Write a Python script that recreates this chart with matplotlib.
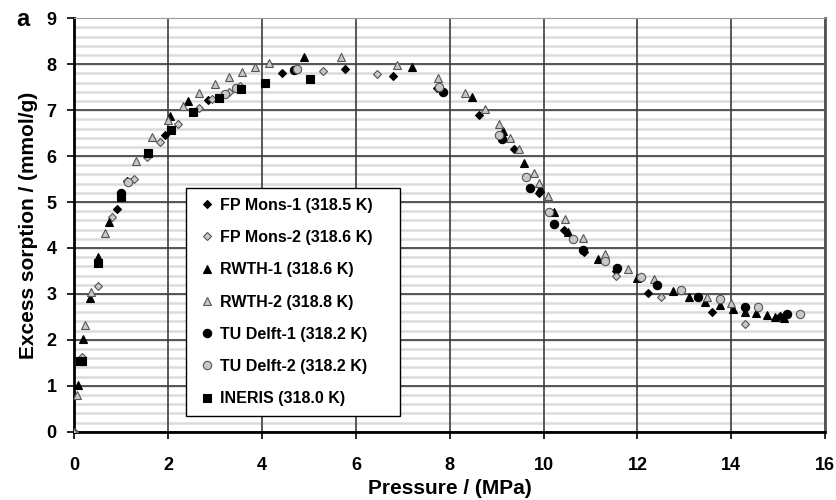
import numpy as np
from matplotlib import pyplot as plt
from matplotlib.ticker import MultipleLocator

plt.rcParams['font.family'] = ['Liberation Sans', 'DejaVu Sans']
plt.rcParams['font.weight'] = 'bold'

# excess sorption data, pressure in MPa, sorption in mmol/g
mons1_p = [0.0, 0.9, 1.12, 1.93, 2.84, 4.43, 5.76, 6.8, 7.72, 8.63, 9.36, 9.91,
           10.44, 10.87, 11.55, 12.23, 13.6, 15.05]
mons1_q = [0.0, 4.84, 5.45, 6.47, 7.22, 7.8, 7.89, 7.75, 7.48, 6.9, 6.16, 5.2,
           4.39, 3.92, 3.5, 3.01, 2.61, 2.52]

mons2_p = [0.0, 0.15, 0.5, 0.8, 1.26, 1.55, 1.82, 2.2, 2.65, 2.93, 3.3, 3.53,
           5.3, 6.44, 11.54, 12.5, 14.3]
mons2_q = [0.0, 1.62, 3.17, 4.67, 5.5, 5.98, 6.31, 6.7, 7.04, 7.24, 7.4, 7.53,
           7.86, 7.79, 3.4, 2.94, 2.34]

rwth1_p = [0.07, 0.18, 0.32, 0.5, 0.73, 2.03, 2.43, 4.89, 7.2, 8.48, 9.14, 9.58,
           9.92, 10.23, 10.53, 11.17, 11.99, 12.75, 13.1, 13.44, 13.76, 14.03,
           14.3, 14.53, 14.76, 14.94, 15.12]
rwth1_q = [1.02, 2.01, 2.9, 3.81, 4.57, 6.87, 7.21, 8.16, 7.95, 7.28, 6.55, 5.84,
           5.3, 4.78, 4.35, 3.75, 3.34, 3.06, 2.93, 2.83, 2.76, 2.67,
           2.61, 2.58, 2.53, 2.49, 2.47]

rwth2_p = [0.0, 0.05, 0.22, 0.35, 0.66, 1.32, 1.66, 2.0, 2.32, 2.66, 3.0, 3.3,
           3.58, 3.85, 4.15, 5.68, 6.88, 7.74, 8.33, 8.75, 9.04, 9.29, 9.47,
           9.79, 9.91, 10.1, 10.46, 10.85, 11.31, 11.81, 12.35, 13.48, 14.0]
rwth2_q = [0.0, 0.8, 2.33, 3.04, 4.32, 5.9, 6.41, 6.79, 7.1, 7.37, 7.57, 7.72,
           7.84, 7.93, 8.02, 8.15, 7.98, 7.69, 7.37, 7.02, 6.69, 6.4, 6.16,
           5.63, 5.42, 5.13, 4.63, 4.21, 3.87, 3.54, 3.32, 2.94, 2.81]

delft1_p = [1.0, 4.68, 7.86, 9.11, 9.7, 10.22, 10.85, 11.57, 12.41, 13.3,
            14.3, 15.19]
delft1_q = [5.2, 7.88, 7.39, 6.37, 5.3, 4.52, 3.96, 3.56, 3.19, 2.94,
            2.72, 2.56]

delft2_p = [1.15, 3.2, 3.44, 4.75, 7.78, 9.04, 9.63, 10.12, 10.63, 11.3,
            12.07, 12.93, 13.76, 14.58, 15.47]
delft2_q = [5.44, 7.35, 7.48, 7.9, 7.51, 6.46, 5.54, 4.78, 4.2, 3.72,
            3.36, 3.09, 2.88, 2.72, 2.56]

ineris_p = [0.12, 0.17, 0.5, 1.0, 1.56, 2.05, 2.53, 3.09, 3.56, 4.06, 5.02]
ineris_q = [1.55, 1.55, 3.68, 5.1, 6.06, 6.57, 6.95, 7.26, 7.45, 7.59, 7.68]

series = [
    (mons1_p, mons1_q, "FP Mons-1 (318.5 K)", "D", "black", 4.5),
    (mons2_p, mons2_q, "FP Mons-2 (318.6 K)", "D", "#c8c8c8", 4.5),
    (rwth1_p, rwth1_q, "RWTH-1 (318.6 K)", "^", "black", 6),
    (rwth2_p, rwth2_q, "RWTH-2 (318.8 K)", "^", "#c8c8c8", 6),
    (delft1_p, delft1_q, "TU Delft-1 (318.2 K)", "o", "black", 6),
    (delft2_p, delft2_q, "TU Delft-2 (318.2 K)", "o", "#c8c8c8", 6),
    (ineris_p, ineris_q, "INERIS (318.0 K)", "s", "black", 6),
]

fig = plt.figure(figsize=(8.37, 5.0), dpi=100)
ax = fig.add_axes([0.089, 0.1366, 0.8967, 0.8268])

for p, q, label, marker, color, size in series:
    ax.plot(p, q, linestyle="none", marker=marker, markersize=size,
            markerfacecolor=color,
            markeredgecolor="#555555" if color != "black" else "black",
            markeredgewidth=0.8, label=label, zorder=3)

ax.set_xlim(0, 16)
ax.set_ylim(0, 9)
ax.xaxis.set_major_locator(MultipleLocator(2))
ax.yaxis.set_major_locator(MultipleLocator(1))

# light minor lines every 0.2 underneath the dark major grid
minor_y = np.arange(0.2, 9.0, 0.2)
ax.hlines(minor_y, 0, 16, color="#dcdcdc", linewidth=1.8, zorder=0.2)
ax.grid(which="major", axis="both", color="#3c3c3c", linewidth=1.2)
ax.set_axisbelow(True)

ax.tick_params(which="major", direction="out", length=5, width=1.2,
               labelsize=13)
ax.tick_params(axis="x", pad=13)
ax.tick_params(axis="y", pad=8)
for lbl in ax.get_xticklabels() + ax.get_yticklabels():
    lbl.set_fontweight("bold")

ax.spines["left"].set_linewidth(2)
ax.spines["bottom"].set_linewidth(2)
ax.spines["top"].set_color("#9a9a9a")
ax.spines["right"].set_color("#555555")
ax.spines["right"].set_linewidth(2)

ax.set_xlabel("Pressure / (MPa)", fontsize=15, fontweight="bold", labelpad=4)
ax.set_ylabel("Excess sorption / (mmol/g)", fontsize=15, fontweight="bold",
              labelpad=6)
fig.text(0.02, 0.96, "a", fontsize=17, fontweight="bold", va="center")

leg = ax.legend(loc="upper left", bbox_to_anchor=(0.1486, 0.0, 0.285, 0.589),
                mode="expand", borderaxespad=0, labelspacing=1.08,
                handletextpad=0.1, handlelength=1.4, borderpad=0.6,
                fancybox=False, framealpha=1, edgecolor="black",
                prop={"weight": "bold", "size": 11.5})
leg.get_frame().set_linewidth(1.0)

plt.savefig("out.png", dpi=100)
